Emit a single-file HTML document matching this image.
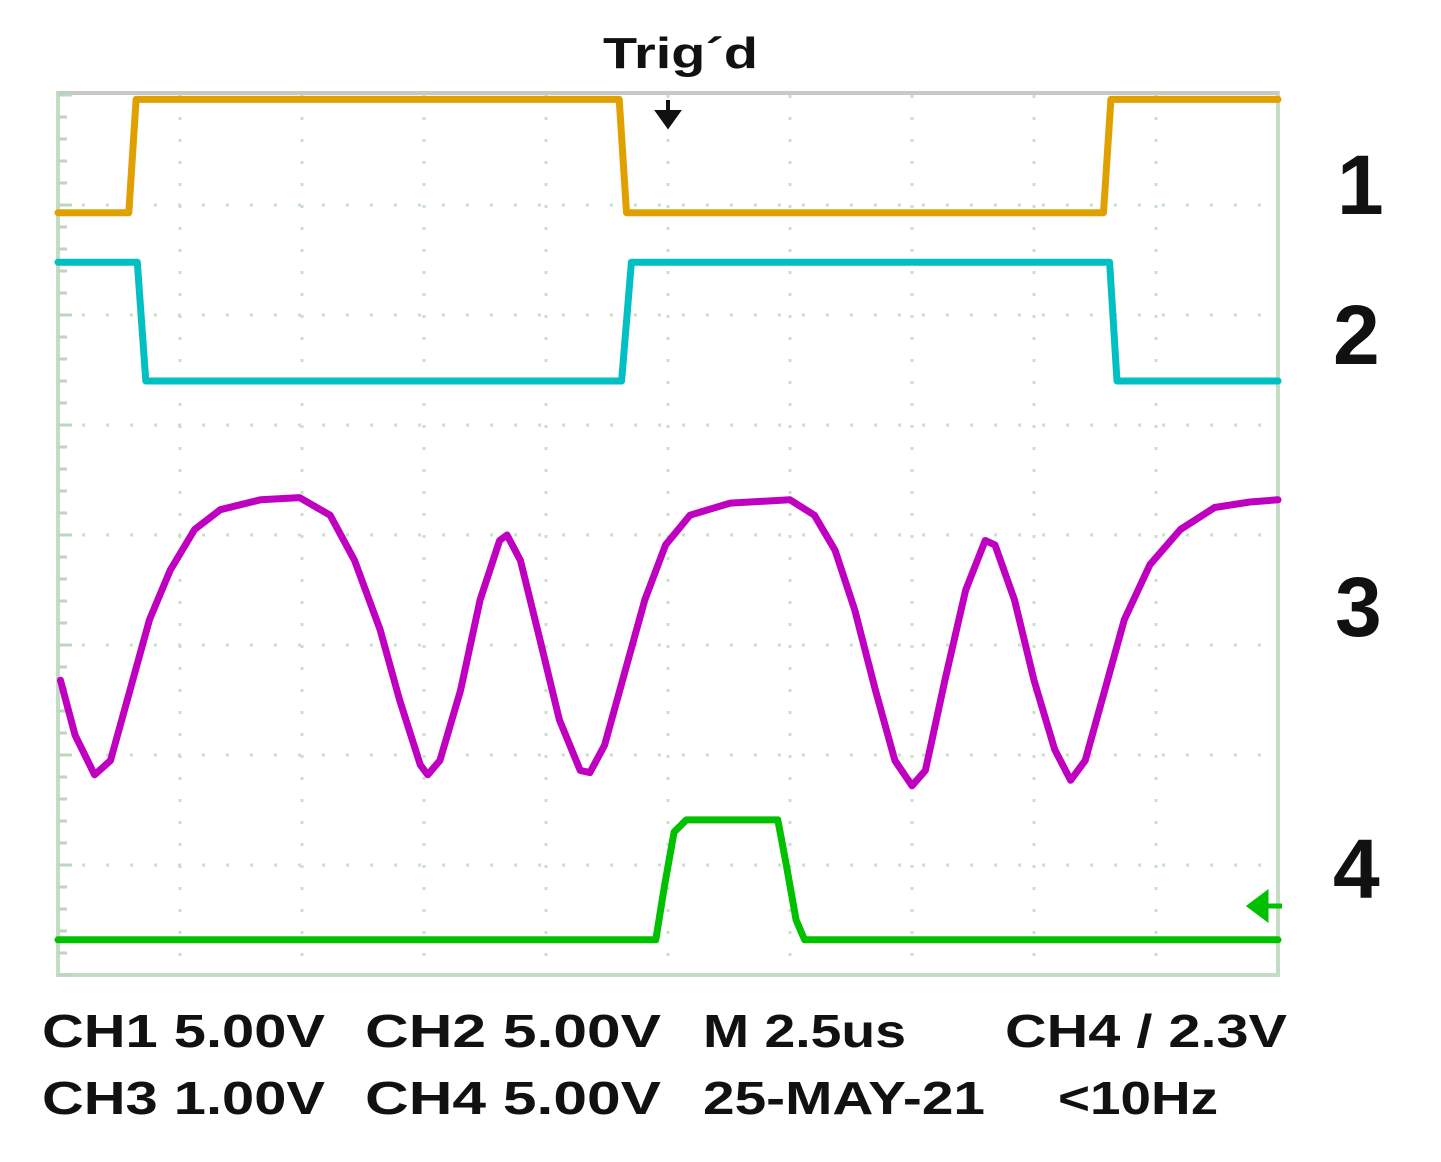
<!DOCTYPE html>
<html><head><meta charset="utf-8"><style>
html,body{margin:0;padding:0;background:#fff;}
svg{display:block;}
text{font-family:"Liberation Sans",Arial,sans-serif;font-weight:bold;fill:#111;}
</style></head><body>
<svg id="scope" width="1441" height="1162" viewBox="0 0 1441 1162" xmlns="http://www.w3.org/2000/svg">
<g id="grid"></g>
<g id="traces"></g>
<text x="603" y="68" font-size="44" textLength="155" lengthAdjust="spacingAndGlyphs">Trig´d</text>
<path d="M668 100 L668 118 M658 112 L668 126 L678 112 Z" stroke="#111" stroke-width="4" fill="#111"/>
<text x="1337" y="214" font-size="84">1</text>
<text x="1333" y="364" font-size="84">2</text>
<text x="1335" y="636" font-size="84">3</text>
<text x="1333" y="898" font-size="84">4</text>
<path d="M1250 906 L1266 894 L1266 918 Z M1262 906 L1282 906" stroke="#00c000" stroke-width="5" fill="#00c000"/>
<g>
<text x="42" y="1047" font-size="46" textLength="283" lengthAdjust="spacingAndGlyphs">CH1 5.00V</text>
<text x="365" y="1047" font-size="46" textLength="296" lengthAdjust="spacingAndGlyphs">CH2  5.00V</text>
<text x="703" y="1047" font-size="46" textLength="203" lengthAdjust="spacingAndGlyphs">M 2.5us</text>
<text x="1005" y="1047" font-size="46" textLength="282" lengthAdjust="spacingAndGlyphs">CH4 / 2.3V</text>
<text x="42" y="1114" font-size="46" textLength="283" lengthAdjust="spacingAndGlyphs">CH3 1.00V</text>
<text x="365" y="1114" font-size="46" textLength="296" lengthAdjust="spacingAndGlyphs">CH4  5.00V</text>
<text x="703" y="1114" font-size="46" textLength="282" lengthAdjust="spacingAndGlyphs">25-MAY-21</text>
<text x="1058" y="1114" font-size="46" textLength="160" lengthAdjust="spacingAndGlyphs">&lt;10Hz</text>
</g>
</svg>
<script>
// time in divisions (0..10), level in divisions (0 bottom .. 8 top)
const ch1Time = [0, 0.58, 0.64, 4.6, 4.66, 8.57, 8.63, 10];
const ch1Level = [6.93, 6.93, 7.96, 7.96, 6.93, 6.93, 7.96, 7.96];
const ch2Time = [0, 0.65, 0.72, 4.62, 4.7, 8.62, 8.68, 10];
const ch2Level = [6.48, 6.48, 5.4, 5.4, 6.48, 6.48, 5.4, 5.4];
const ch3Time = [0.02,0.14,0.3,0.43,0.59,0.75,0.92,1.12,1.33,1.66,1.98,2.23,2.43,2.64,2.8,2.97,3.03,3.13,3.3,3.46,3.62,3.68,3.79,3.95,4.11,4.28,4.36,4.48,4.65,4.81,4.98,5.18,5.51,6.0,6.2,6.37,6.53,6.7,6.86,7.0,7.11,7.27,7.44,7.6,7.68,7.84,8.0,8.17,8.3,8.42,8.58,8.74,8.95,9.2,9.48,9.77,10];
const ch3Level = [2.68,2.18,1.82,1.95,2.59,3.23,3.68,4.05,4.23,4.32,4.34,4.18,3.77,3.14,2.5,1.91,1.82,1.95,2.59,3.41,3.95,4.0,3.77,3.05,2.32,1.86,1.84,2.09,2.77,3.41,3.91,4.18,4.29,4.32,4.18,3.86,3.32,2.59,1.95,1.72,1.86,2.68,3.5,3.95,3.91,3.41,2.68,2.05,1.77,1.95,2.59,3.23,3.73,4.05,4.25,4.3,4.32];
const ch4Time = [0, 4.9, 4.97, 5.05, 5.15, 5.9, 5.97, 6.05, 6.12, 10];
const ch4Level = [0.32, 0.32, 0.8, 1.3, 1.41, 1.41, 1.0, 0.5, 0.32, 0.32];

const L = 58, R = 1278, T = 95, B = 975;
const xs = d => L + d * (R - L) / 10;
const ys = v => B - v * (B - T) / 8;
const NS = "http://www.w3.org/2000/svg";
const grid = document.getElementById("grid");
const traces = document.getElementById("traces");
function mk(tag, attrs, parent) {
  const e = document.createElementNS(NS, tag);
  for (const k in attrs) e.setAttribute(k, attrs[k]);
  parent.appendChild(e);
  return e;
}
const frame = mk("rect", {x: L, y: T - 2, width: R - L, height: B - T + 2, fill: "none", stroke: "#c4dcc4", "stroke-width": 4}, grid);


const topEdge = mk("line", {x1: L, y1: T - 2, x2: R, y2: T - 2, stroke: "#c8c8c8", "stroke-width": 4}, grid);


for (let i = 1; i < 10; i++) {
  const l = mk("line", {x1: xs(i), y1: T, x2: xs(i), y2: B, stroke: "#c8e0c8", "stroke-width": 3, "stroke-dasharray": "3 19"}, grid);
  
  
}
for (let j = 1; j < 8; j++) {
  const l = mk("line", {x1: L, y1: ys(j), x2: R, y2: ys(j), stroke: "#c8e0c8", "stroke-width": 3, "stroke-dasharray": "3 21"}, grid);
  
  
}
for (let k = 0; k <= 40; k++) {
  const y = ys(k / 5);
  const t = mk("line", {x1: L, y1: y, x2: L + (k % 5 === 0 ? 14 : 9), y2: y, stroke: "#bcd8bc", "stroke-width": 3}, grid);
  
  
}
function trace(tx, lv, color, name) {
  let d = "";
  for (let i = 0; i < tx.length; i++) d += (i ? "L" : "M") + xs(tx[i]).toFixed(1) + " " + ys(lv[i]).toFixed(1);
  const p = mk("path", {d: d, fill: "none", stroke: color, "stroke-width": 7, "stroke-linejoin": "round", "stroke-linecap": "round"}, traces);
  
  
}
trace(ch1Time, ch1Level, "#e0a000", "ch1-trace");
trace(ch2Time, ch2Level, "#00c0c4", "ch2-trace");
trace(ch3Time, ch3Level, "#c000c0", "ch3-trace");
trace(ch4Time, ch4Level, "#00c000", "ch4-trace");
</script>
</body></html>
